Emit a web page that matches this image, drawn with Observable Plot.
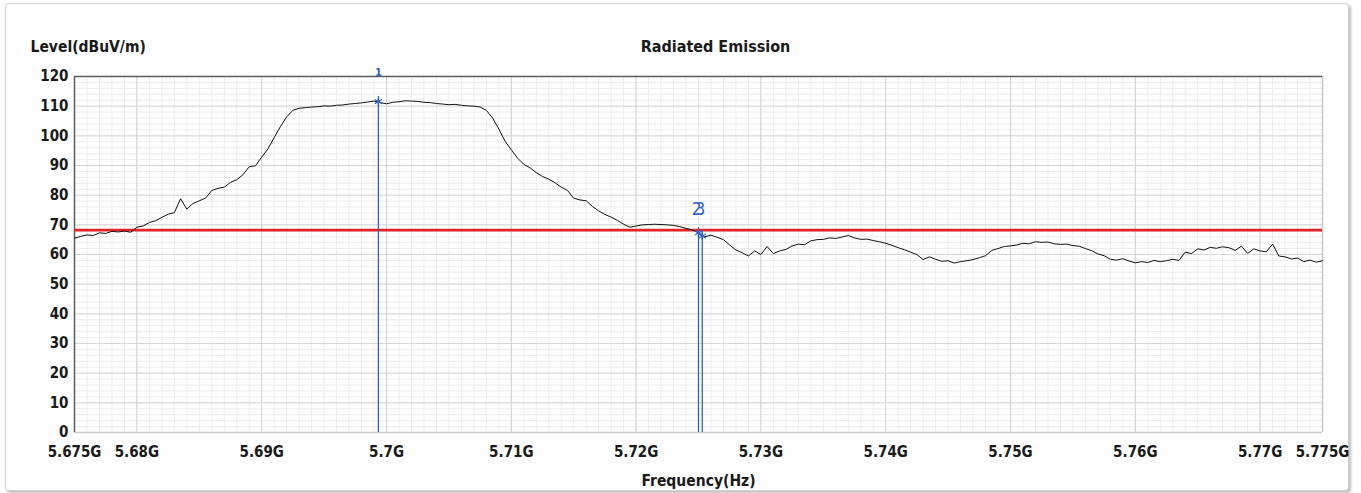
<!DOCTYPE html>
<html><head><meta charset="utf-8">
<script src="https://cdn.jsdelivr.net/npm/d3@7"></script>
<script src="https://cdn.jsdelivr.net/npm/@observablehq/plot@0.6"></script>
<style>
body{margin:0;background:#fff;}
#panel{position:absolute;left:5px;top:3px;width:1342px;height:486px;border:1px solid #d2d2d2;border-radius:4px;box-shadow:2px 2px 3px #bdbdbd;background:#fdfdfd;}
#chart{position:absolute;left:0;top:0;}
</style></head><body><div id="panel"></div><div id="chart"></div>
<script>
// Sweep: 5.675 GHz to 5.775 GHz, 0.5 MHz per point
const sweepStartGHz = 5.675;
const sweepStepGHz = 0.0005;
const levels = [
65.5,66.1,66.6,66.4,67.3,67.1,67.8,67.6,67.9,67.5,
69.2,69.6,70.8,71.4,72.5,73.6,74.1,78.8,75.3,77.2,
78.1,79.0,81.6,82.3,82.7,84.3,85.2,86.9,89.6,89.9,
92.8,95.6,99.4,103.1,106.4,108.6,109.3,109.5,109.7,109.8,
110.1,110.0,110.3,110.4,110.7,110.9,111.1,111.4,111.7,111.2,
110.8,111.3,111.5,111.8,111.7,111.6,111.3,111.2,110.9,110.7,
110.5,110.6,110.3,110.1,110.0,109.7,108.6,106.0,102.3,98.2,
95.3,92.5,90.4,89.2,87.6,86.3,85.4,84.2,82.7,81.6,
79.0,78.4,78.1,76.2,74.7,73.5,72.6,71.5,70.2,69.2,
69.6,70.0,70.1,70.2,70.1,70.0,69.8,69.4,68.8,68.3,
67.3,66.0,66.5,65.8,65.0,63.2,61.5,60.6,59.5,61.2,
60.0,62.7,60.3,61.2,61.7,62.9,63.5,63.3,64.6,65.0,
65.1,65.6,65.4,65.9,66.4,65.6,65.1,65.2,64.7,64.3,
63.8,63.1,62.3,61.6,60.8,60.0,58.3,59.2,58.4,57.7,
57.9,57.1,57.6,57.9,58.3,58.9,59.6,61.4,62.0,62.7,
62.9,63.2,63.8,63.6,64.3,64.1,64.2,63.6,63.4,63.5,
63.0,62.8,62.0,61.3,60.2,59.6,58.4,58.1,58.6,57.8,
57.2,57.6,57.3,58.0,57.6,57.9,58.4,58.0,60.8,60.3,
61.9,61.5,62.4,62.1,62.6,62.3,61.4,62.8,60.4,61.9,
61.2,60.9,63.5,59.5,59.2,58.5,58.8,57.6,58.1,57.4,
57.9
];
const limitLevel = 68.2;
const markerNames = ["1", "2", "3"];
const markerFreqs = [5.69935, 5.72500, 5.72530];
const markerLevels = [111.5, 67.3, 66.2];
const xTicks = [5.675, 5.68, 5.69, 5.70, 5.71, 5.72, 5.73, 5.74, 5.75, 5.76, 5.77, 5.775];
const xTickLabels = ["5.675G", "5.68G", "5.69G", "5.7G", "5.71G", "5.72G", "5.73G", "5.74G", "5.75G", "5.76G", "5.77G", "5.775G"];
const yTicks = [0, 10, 20, 30, 40, 50, 60, 70, 80, 90, 100, 110, 120];

const trace = levels.map((v, i) => ({f: sweepStartGHz + i * sweepStepGHz, v}));
const markers = markerNames.map((n, i) => ({name: n, f: markerFreqs[i], v: markerLevels[i]}));
const labelOf = new Map(xTicks.map((t, i) => [t, xTickLabels[i]]));

const minorX = d3.range(0, 101).map(k => 5.675 + k * 0.001);
const majorX = xTicks.slice(1, -1);
const minorY = d3.range(0, 61).map(k => k * 2);

const blue = "#2f62c2";
const font = "'Liberation Sans Narrow', 'Arial Narrow', 'DejaVu Sans Condensed', sans-serif";

const chart = Plot.plot({
  width: 1361, height: 493,
  marginLeft: 74, marginRight: 39, marginTop: 76, marginBottom: 61,
  style: {fontFamily: font, fontSize: "15px", fontWeight: "bold", color: "#1a1a1a", background: "transparent", overflow: "visible"},
  x: {domain: [5.675, 5.775]},
  y: {domain: [0, 120]},
  marks: [
    Plot.frame({fill: "#ffffff"}),
    Plot.ruleX(minorX, {stroke: "#ececec", strokeWidth: 1}),
    Plot.ruleY(minorY, {stroke: "#ececec", strokeWidth: 1}),
    Plot.ruleX(majorX, {stroke: "#d3d3d3", strokeWidth: 1}),
    Plot.ruleY(yTicks, {stroke: "#d6d6d6", strokeWidth: 1}),
    Plot.ruleY([0], {stroke: "#c9c9c9", strokeWidth: 1.5}),
    Plot.ruleX([5.775], {stroke: "#c9c9c9", strokeWidth: 1.5}),
    Plot.ruleY([120], {stroke: "#5e5e5e", strokeWidth: 1.5}),
    Plot.ruleX([5.675], {stroke: "#5e5e5e", strokeWidth: 1.5}),
    Plot.ruleY([limitLevel], {stroke: "#e3232b", strokeWidth: 2.6}),
    Plot.line(trace, {x: "f", y: "v", stroke: "#111", strokeWidth: 1}),
    Plot.ruleX(markers, {x: "f", y1: 0, y2: d => d.v + 1.8, stroke: blue, strokeWidth: 1.3}),
    Plot.dot(markers, {x: "f", y: "v", symbol: "asterisk", r: 4, stroke: blue, strokeWidth: 1.2}),
    Plot.text(markers.filter(d => d.name !== "1"), {x: "f", y: 75.3, text: "name", fill: blue, fontSize: 17, fontWeight: "normal", dx: -2}),
    Plot.text(markers.filter(d => d.name === "1"), {x: "f", y: 121.3, text: "name", fill: blue, fontSize: 11, fontWeight: "bold"}),
    Plot.axisY(yTicks, {tickSize: 0, tickPadding: 6, label: null, fill: "#1a1a1a"}),
    Plot.axisX(xTicks, {tickSize: 0, tickPadding: 14, label: null, tickFormat: d => labelOf.get(d), fill: "#1a1a1a"}),
    Plot.text(["Radiated Emission"], {frameAnchor: "top", dx: 17, dy: -36, fontSize: 16}),
    Plot.text(["Level(dBuV/m)"], {frameAnchor: "top-left", dx: -44, dy: -36, textAnchor: "start", fontSize: 15.5}),
    Plot.text(["Frequency(Hz)"], {frameAnchor: "bottom", dx: 0, dy: 53, fontSize: 15.5})
  ]
});
document.getElementById("chart").appendChild(chart);
</script></body></html>
